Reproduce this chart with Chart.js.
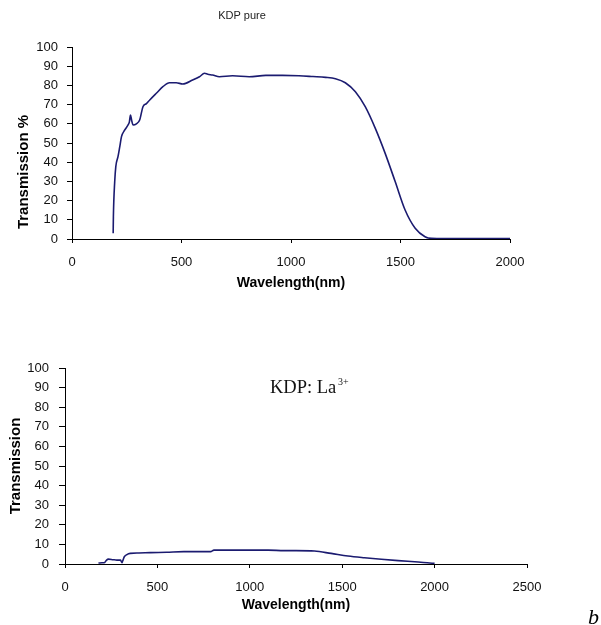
<!DOCTYPE html>
<html>
<head>
<meta charset="utf-8">
<script src="https://cdn.jsdelivr.net/npm/chart.js@4.4.1/dist/chart.umd.min.js"></script>
<style>
  html, body { margin: 0; padding: 0; background: #ffffff; width: 601px; height: 625px; overflow: hidden; }
  canvas { position: absolute; left: 0; display: block; }
  #c1 { top: 0; }
  #c2 { top: 305px; }
</style>
</head>
<body>
<canvas id="c1" width="601" height="305"></canvas>
<canvas id="c2" width="601" height="320"></canvas>
<script>
// ---- Data: KDP pure ----
const pureWavelength = [188, 189, 195, 200, 210, 218, 226, 241, 256, 262, 267, 272, 279, 294, 309, 324, 340, 355, 385, 415, 445, 476, 506, 551, 582, 605, 620, 642, 673, 733, 809, 885, 961, 1036, 1100, 1158, 1203, 1248, 1294, 1339, 1385, 1430, 1476, 1521, 1567, 1612, 1642, 1700, 1800, 1900, 2000];
const pureTransmission = [3, 11.6, 29.8, 37.7, 42.9, 48, 53.3, 56.8, 59.4, 61, 64.6, 62, 59.4, 60, 62, 68.9, 70.5, 72.4, 75.9, 79.3, 81.4, 81.4, 80.7, 82.8, 84.5, 86.3, 85.8, 85.4, 84.5, 85, 84.5, 85.2, 85.2, 85, 84.6, 84.2, 83.5, 81.4, 76.7, 68.9, 57.6, 44.6, 29.8, 15.1, 5.6, 1.2, 0.3, 0.2, 0.2, 0.2, 0.2];

// ---- Data: KDP:La3+ ----
const laWavelength = [181, 200, 215, 225, 235, 260, 281, 300, 305, 308, 312, 321, 335, 353, 400, 462, 550, 643, 700, 788, 806, 900, 1000, 1100, 1186, 1250, 1350, 1440, 1531, 1620, 1712, 1803, 1911, 1960, 2000];
const laTransmission = [0.5, 0.6, 0.8, 2.0, 2.5, 2.2, 2.0, 2.0, 1.2, 0.7, 1.5, 3.7, 4.8, 5.4, 5.6, 5.8, 6.0, 6.3, 6.3, 6.3, 7.1, 7.1, 7.1, 7.1, 6.8, 6.8, 6.6, 5.4, 4.1, 3.2, 2.4, 1.7, 1.0, 0.6, 0.3];

// ---- Axis ticks ----
const yTicks = [0, 10, 20, 30, 40, 50, 60, 70, 80, 90, 100];
const pureXTicks = [0, 500, 1000, 1500, 2000];
const laXTicks = [0, 500, 1000, 1500, 2000, 2500];

const LINE_COLOR = '#1b1b70';
const TEXT_COLOR = '#111111';
const SANS = 'Arial, "Liberation Sans", sans-serif';
const SERIF = '"Liberation Serif", "Times New Roman", serif';

function toPoints(xs, ys) { return xs.map((x, i) => ({ x: x, y: ys[i] })); }

function axisCommon(tickLen, pad, fontSize) {
  return {
    grid: { display: true, drawOnChartArea: false, drawTicks: true, tickLength: tickLen, color: '#000000', lineWidth: 1 },
    border: { display: true, color: '#000000', width: 1 },
    ticks: { color: TEXT_COLOR, padding: pad, font: { family: SANS, size: fontSize } }
  };
}

const freeText = {
  id: 'freeText',
  afterDraw(chart, args, opts) {
    const ctx = chart.ctx;
    (opts.items || []).forEach(it => {
      ctx.save();
      ctx.font = it.font;
      ctx.fillStyle = it.color || '#000';
      ctx.textAlign = it.align || 'left';
      ctx.textBaseline = it.baseline || 'alphabetic';
      ctx.translate(it.x, it.y);
      if (it.rotate) ctx.rotate(it.rotate);
      ctx.fillText(it.text, 0, 0);
      ctx.restore();
    });
  }
};

function makeChart(canvasId, cfg) {
  const yAxis = axisCommon(cfg.yTickLen, cfg.yPad, 13);
  yAxis.min = 0; yAxis.max = 100;
  yAxis.afterBuildTicks = (s) => { s.ticks = yTicks.map(v => ({ value: v })); };
  yAxis.afterFit = (s) => { s.width = cfg.yWidth; };
  yAxis.title = { display: cfg.yTitle !== null, text: cfg.yTitle || '', align: 'center', color: '#000',
    font: { family: SANS, size: 15, weight: 'bold' },
    padding: { top: cfg.yTitlePad, bottom: 0 } };

  const xAxis = axisCommon(4, cfg.xPad, 13);
  xAxis.type = 'linear';
  xAxis.min = 0; xAxis.max = cfg.xTicks[cfg.xTicks.length - 1];
  xAxis.afterBuildTicks = (s) => { s.ticks = cfg.xTicks.map(v => ({ value: v })); };
  xAxis.ticks.callback = (v) => String(v);
  xAxis.afterFit = (s) => { s.height = cfg.xHeight; };
  xAxis.title = { display: true, text: 'Wavelength(nm)', color: '#000',
    font: { family: SANS, size: 14, weight: 'bold' },
    padding: { top: 0, bottom: cfg.xTitlePad } };

  return new Chart(document.getElementById(canvasId), {
    type: 'line',
    data: { datasets: [{ data: toPoints(cfg.xs, cfg.ys), borderColor: LINE_COLOR, borderWidth: 1.6,
      pointRadius: 0, cubicInterpolationMode: 'monotone', fill: false }] },
    options: {
      responsive: false, animation: false, devicePixelRatio: 1,
      layout: { padding: cfg.padding },
      plugins: { legend: { display: false }, tooltip: { enabled: false }, title: { display: false },
        freeText: { items: cfg.texts } },
      scales: { x: xAxis, y: yAxis }
    },
    plugins: [freeText]
  });
}

makeChart('c1', {
  xs: pureWavelength, ys: pureTransmission, xTicks: pureXTicks,
  yTitle: null, yTitlePad: 15,
  yWidth: 72, yTickLen: 5, yPad: 9,
  xHeight: 66, xPad: 12, xTitlePad: 13,
  padding: { left: 0, top: 47, right: 91, bottom: 0 },
  texts: [
    { text: 'KDP pure', x: 242, y: 16, align: 'center', baseline: 'middle', color: '#222',
      font: '11px ' + SANS },
    { text: 'Transmission %', x: 24, y: 172, align: 'center', baseline: 'middle', color: '#000',
      rotate: -Math.PI / 2, font: 'bold 15px ' + SANS }
  ]
});

makeChart('c2', {
  xs: laWavelength, ys: laTransmission, xTicks: laXTicks,
  yTitle: 'Transmission', yTitlePad: 7,
  yWidth: 65, yTickLen: 6, yPad: 10,
  xHeight: 61, xPad: 12, xTitlePad: 11,
  padding: { left: 0, top: 63, right: 74, bottom: 0 },
  texts: [
    { text: 'KDP: La', x: 270, y: 88, align: 'left', color: '#111',
      font: '18.5px ' + SERIF },
    { text: '3+', x: 338, y: 80, align: 'left', color: '#111',
      font: '10px ' + SERIF },
    { text: 'b', x: 588, y: 319, align: 'left', color: '#000',
      font: 'italic 22px ' + SERIF }
  ]
});
</script>
</body>
</html>
